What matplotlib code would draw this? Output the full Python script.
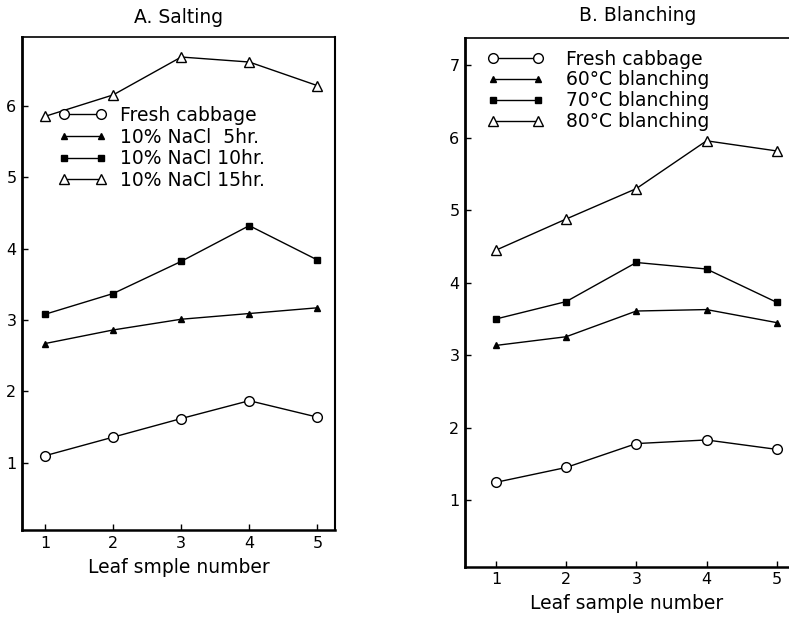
import matplotlib
matplotlib.use("Agg")
import matplotlib.pyplot as plt

plt.rcParams['font.family'] = ['DejaVu Sans']

leaf = [1, 2, 3, 4, 5]

# A. Salting
salt_fresh = [1.10, 1.36, 1.62, 1.87, 1.64]
salt_5hr = [2.67, 2.86, 3.01, 3.09, 3.17]
salt_10hr = [3.08, 3.37, 3.82, 4.32, 3.84]
salt_15hr = [5.85, 6.15, 6.68, 6.61, 6.28]
salt_labels = ["Fresh cabbage", "10% NaCl  5hr.", "10% NaCl 10hr.", "10% NaCl 15hr."]

# B. Blanching
blanch_fresh = [1.245, 1.45, 1.78, 1.83, 1.70]
blanch_60 = [3.135, 3.255, 3.61, 3.63, 3.45]
blanch_70 = [3.50, 3.74, 4.28, 4.19, 3.73]
blanch_80 = [4.45, 4.88, 5.30, 5.96, 5.82]
blanch_labels = ["Fresh cabbage", "60°C blanching", "70°C blanching", "80°C blanching"]

styles = [
    dict(marker='o', markersize=7, markerfacecolor='white'),
    dict(marker='^', markersize=5, markerfacecolor='black'),
    dict(marker='s', markersize=5, markerfacecolor='black'),
    dict(marker='^', markersize=7, markerfacecolor='white'),
]

fig = plt.figure(figsize=(7.89, 6.17), dpi=100)
axA = fig.add_axes([0.0279, 0.141, 0.3967, 0.799])
axB = fig.add_axes([0.5894, 0.0815, 0.4106, 0.857])


def draw(ax, series, labels):
    for ys, lab, st in zip(series, labels, styles):
        ax.plot(leaf, ys, color='black', lw=1.0, markeredgecolor='black',
                markeredgewidth=1.0, label=lab, **st)


draw(axA, [salt_fresh, salt_5hr, salt_10hr, salt_15hr], salt_labels)
draw(axB, [blanch_fresh, blanch_60, blanch_70, blanch_80], blanch_labels)

axA.set_xlim(0.66, 5.26)
axA.set_ylim(0.06, 6.96)
axA.set_yticks([1, 2, 3, 4, 5, 6])
axB.set_xlim(0.56, 5.175)
axB.set_ylim(0.08, 7.38)
axB.set_yticks([1, 2, 3, 4, 5, 6, 7])
axB.spines['right'].set_visible(False)

for ax in (axA, axB):
    ax.set_xticks(leaf)
    ax.tick_params(direction='in', length=4, width=1.0, labelsize=11.5, pad=4)
    ax.spines['left'].set_linewidth(2.0)
    ax.spines['bottom'].set_linewidth(1.8)
    ax.spines['top'].set_linewidth(1.2)
    ax.spines['right'].set_linewidth(1.5)

axA.set_xlabel("Leaf smple number", fontsize=13.5, labelpad=5)
axB.set_xlabel("Leaf sample number", fontsize=13.5, labelpad=5)
axA.set_title("A. Salting", fontsize=13.5, pad=10)
fig.text(0.808, 0.975, "B. Blanching", fontsize=13.5, ha='center', va='center')

axA.legend(loc='upper left', bbox_to_anchor=(0.115, 0.86), frameon=False,
           fontsize=13.5, numpoints=2, handlelength=2.6, handletextpad=0.7,
           labelspacing=0.14, borderpad=0, borderaxespad=0)
axB.legend(loc='upper left', bbox_to_anchor=(0.07, 0.978), frameon=False,
           fontsize=13.5, numpoints=2, handlelength=3.0, handletextpad=1.15,
           labelspacing=0.1, borderpad=0, borderaxespad=0)

fig.savefig("out.png", dpi=100)
